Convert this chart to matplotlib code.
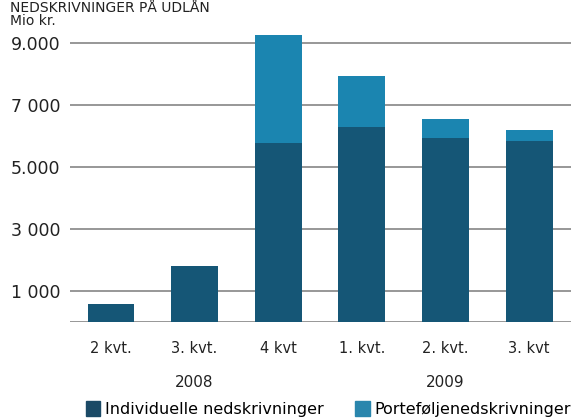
import matplotlib.pyplot as plt
from matplotlib.patches import Patch

# data (mio kr.)
quarters = ["2 kvt.", "3. kvt.", "4 kvt", "1. kvt.", "2. kvt.", "3. kvt"]
individuelle = [580, 1800, 5770, 6290, 5940, 5850]
portefolje = [0, 0, 3490, 1650, 610, 340]
ytick_vals = [1000, 3000, 5000, 7000, 9000]
ytick_labels = ["1 000", "3 000", "5.000", "7 000", "9.000"]
years = ["2008", "2009"]
year_pos = [1, 4]

dark = "#155676"
light = "#1b85b0"

fig = plt.figure(figsize=(5.78, 4.19), dpi=100)
ax = fig.add_axes([0.121, 0.2315, 0.867, 0.703])

x = list(range(len(quarters)))
ax.bar(x, individuelle, width=0.56, color=dark, zorder=3)
ax.bar(x, portefolje, width=0.56, bottom=individuelle, color=light, zorder=3)

for v in [0] + ytick_vals:
    ax.axhline(v, color="#8f8f8f", lw=1.3, zorder=1)

ax.set_xlim(-0.49, 5.5)
ax.set_ylim(0, 9500)
ax.set_yticks(ytick_vals)
ax.set_yticklabels(ytick_labels, fontsize=12.5, color="#222222")
ax.set_xticks(x)
ax.set_xticklabels(quarters, fontsize=10.5, color="#222222")
ax.tick_params(length=0)
ax.tick_params(axis="y", pad=7)
ax.tick_params(axis="x", pad=14)
for s in ax.spines.values():
    s.set_visible(False)

for yr, p in zip(years, year_pos):
    ax.text(p, -1950, yr, ha="center", va="center", fontsize=11, color="#222222")

fig.text(0.017, 0.998, "NEDSKRIVNINGER PÅ UDLÅN", fontsize=10, color="#222222",
         va="top", ha="left")
fig.text(0.017, 0.950, "Mio kr.", fontsize=10, color="#222222", va="center", ha="left")

handles = [Patch(color="#1b4a66"), Patch(color="#2a86ad")]
fig.legend(handles, ["Individuelle nedskrivninger", "Porteføljenedskrivninger"],
           loc="center", bbox_to_anchor=(0.568, 0.024), ncol=2, frameon=False,
           fontsize=11.5, handlelength=0.9, handleheight=1.1, handletextpad=0.3,
           columnspacing=2.0, borderpad=0.1)

fig.savefig("out.png", dpi=100)
